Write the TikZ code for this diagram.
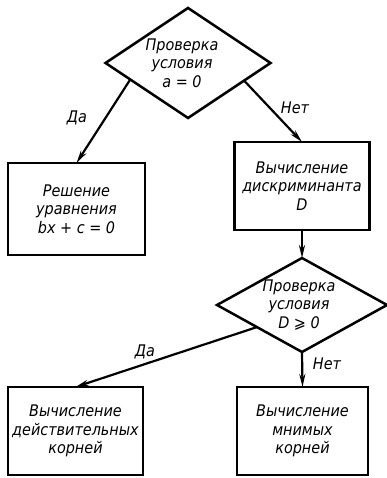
\documentclass[tikz,border=0pt]{standalone}
\usepackage{fontspec}
\setmainfont{DejaVu Sans Condensed}
\usetikzlibrary{shapes.geometric,arrows.meta,calc}
\begin{document}
\begin{tikzpicture}[x=1pt,y=-1pt,
  every node/.append style={font=\itshape\fontsize{16}{18.5}\selectfont},
  box/.style={draw,line width=2.5pt,rectangle,inner sep=0pt,outer sep=0pt,align=center},
  dia/.style={draw,line width=2.5pt,diamond,inner sep=0pt,outer sep=0pt},
  txt/.style={align=center,inner sep=0pt},
  arr/.style={line width=2.2pt,-{Stealth[length=13pt,width=6pt]}},
  lbl/.style={inner sep=0pt}]
\useasboundingbox[fill=white] (0,0) rectangle (387,478);
% decisions
\node[dia,minimum width=165pt,minimum height=110pt] (d1) at (188,63) {};
\node[txt] (t1) at (182,63) {Проверка\\условия\\a = 0};
\node[dia,minimum width=170pt,minimum height=94pt] (d2) at (302,305) {};
\node[txt] (t2) at (299,305) {Проверка\\условия\\D ⩾ 0};
% boxes
\node[box,minimum width=137pt,minimum height=92pt] (lb) at (76.5,209) {Решение\\уравнения\\bx + c = 0};
\node[box,minimum width=135pt,minimum height=88pt] (rb) at (302,186) {Вычисление\\дискриминанта\\D};
\node[box,minimum width=135pt,minimum height=88pt] (bl) at (75.5,431) {Вычисление\\действительных\\корней};
\node[box,minimum width=131pt,minimum height=88pt] (br) at (302.5,431) {Вычисление\\мнимых\\корней};
% connectors
\draw[arr] ($(d1.west)!0.3!(d1.south)$) -- (lb.north);
\draw[arr] ($(d1.east)!0.32!(d1.south)$) -- (rb.north);
\draw[arr] (rb.south) -- (d2.north);
\draw[arr] ($(d2.west)!0.47!(d2.south)$) -- (bl.north);
\draw[arr] (d2.south) -- (br.north);
% labels
\node[lbl] (l1) at (77,118) {Да};
\node[lbl] (l2) at (295,108) {Нет};
\node[lbl] (l3) at (145,352) {Да};
\node[lbl] (l4) at (327,364) {Нет};
\end{tikzpicture}
\end{document}
